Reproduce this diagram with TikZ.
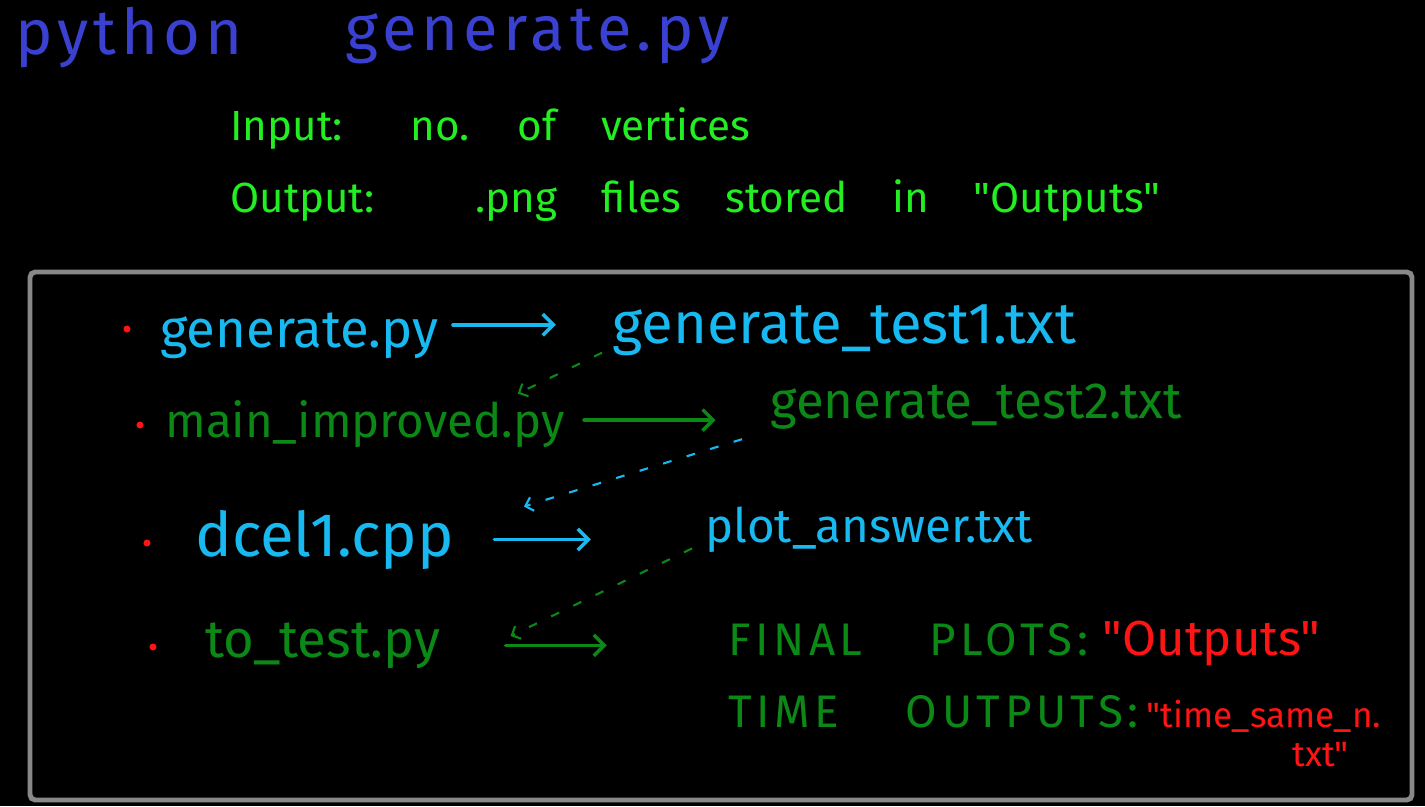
\documentclass[tikz,border=0pt]{standalone}
\usepackage{fontspec}
\setmainfont{Fira Sans}
\newfontfamily\penfont{Fira Sans}
\newfontfamily\titlefont[LetterSpace=8]{Fira Sans}
\newfontfamily\capsfont[LetterSpace=10, WordSpace=4]{Fira Sans}
\newfontfamily\gapfont[WordSpace=4]{Fira Sans}
\usetikzlibrary{arrows.meta, positioning, calc}
\usepackage{xcolor}
\definecolor{penblue}{RGB}{58,64,208}
\definecolor{pengreen}{RGB}{34,238,34}
\definecolor{pencyan}{RGB}{24,184,240}
\definecolor{pendark}{RGB}{12,136,22}
\definecolor{penred}{RGB}{255,20,20}
\definecolor{framegray}{RGB}{136,136,136}

\begin{document}
\begin{tikzpicture}[
      x=0.02cm, y=-0.02cm,
      txt/.style={anchor=base west, inner sep=0pt},
      sz/.style={font=\penfont\fontsize{#1pt}{#1pt}\selectfont},
      head/.style={txt, text=penblue, font=\titlefont\fontsize{36}{40}\selectfont},
      note/.style={txt, text=pengreen, font=\gapfont\fontsize{24}{28}\selectfont},
      caps/.style={txt, text=pendark, font=\capsfont\fontsize{26}{30}\selectfont},
      bullet/.style={circle, fill=penred, inner sep=0pt, minimum size=4pt},
      arr/.style={-{Straight Barb[length=6pt, width=12pt]}, line width=2pt, line cap=round},
      darr/.style={-{Straight Barb[length=4pt, width=8pt]}, line width=1.2pt, dash pattern=on 5pt off 9pt}
    ]
    \fill[black] (0,0) rectangle (1425,806);

    % heading and notes
    \node[head] (python)  at (15,54)  {python};
    \node[head] (genhead) at (345,50) {generate.py};
    \node[note] (inlbl)   at (230,140) {Input:};
    \node[note] (inval)   at (410,140) {no. of vertices};
    \node[note] (outlbl)  at (230,212) {Output:};
    \node[note] (outval)  at (475,212) {.png files stored in "Outputs"};

    \draw[framegray, line width=2.8pt, rounded corners=3pt] (30,272) rectangle (1412,800);

    % pipeline
    \node[bullet] (b1) at (127,329) {};
    \node[bullet] (b2) at (140,425) {};
    \node[bullet] (b3) at (147,543) {};
    \node[bullet] (b4) at (153,647) {};

    \node[txt, text=pencyan, sz=30] (genpy)  at (160,347) {generate.py};
    \node[txt, text=pencyan, sz=33] (test1)  at (612,343) {generate\_test1.txt};
    \node[txt, text=pendark, sz=27] (mainpy) at (165,437) {main\_improved.py};
    \node[txt, text=pendark, sz=29] (test2)  at (770,418) {generate\_test2.txt};
    \node[txt, text=pencyan, sz=35] (dcel)   at (195,556) {dcel1.cpp};
    \node[txt, text=pencyan, sz=27] (plot)   at (705,542) {plot\_answer.txt};
    \node[txt, text=pendark, sz=30] (totest) at (205,657) {to\_test.py};
    \node[caps] (final) at (728,655) {FINAL PLOTS:};
    \node[txt, text=penred, sz=28, base right=8pt of final] (finalval) {"Outputs"};
    \node[caps] (timeout) at (728,727) {TIME OUTPUTS:};
    \node[txt, text=penred, sz=20, base right=4pt of timeout] (timeval) {"time\_same\_n.};
    \node[txt, text=penred, sz=20] (timeext) at (1292,766) {txt"};

    \draw[arr, pencyan, shorten <=8pt, shorten >=32pt] ([yshift=6pt]genpy.east) -- ([yshift=6pt]genpy.east -| test1.west);
    \draw[arr, pendark, shorten <=11pt, shorten >=31pt] ([yshift=2pt]mainpy.east) -- ([yshift=2pt]mainpy.east -| test2.west);
    \draw[arr, pencyan, shorten <=23pt, shorten >=65pt] (dcel.east) -- (dcel.east -| plot.west);
    \draw[arr, pendark, shorten <=37pt, shorten >=69pt] (totest.east) -- (totest.east -| final.west);

    \draw[darr, pendark] ($(test1.south west)+(-10,-3)$) -- ($(mainpy.north east)+(-47,-6)$);
    \draw[darr, pencyan] ($(test2.south west)+(-28,10)$) -- ($(dcel.north east)+(70,-3)$);
    \draw[darr, pendark] ($(plot.south west)+(-13,-4)$) -- ($(totest.north east)+(70,14)$);
  \end{tikzpicture}
\end{document}
